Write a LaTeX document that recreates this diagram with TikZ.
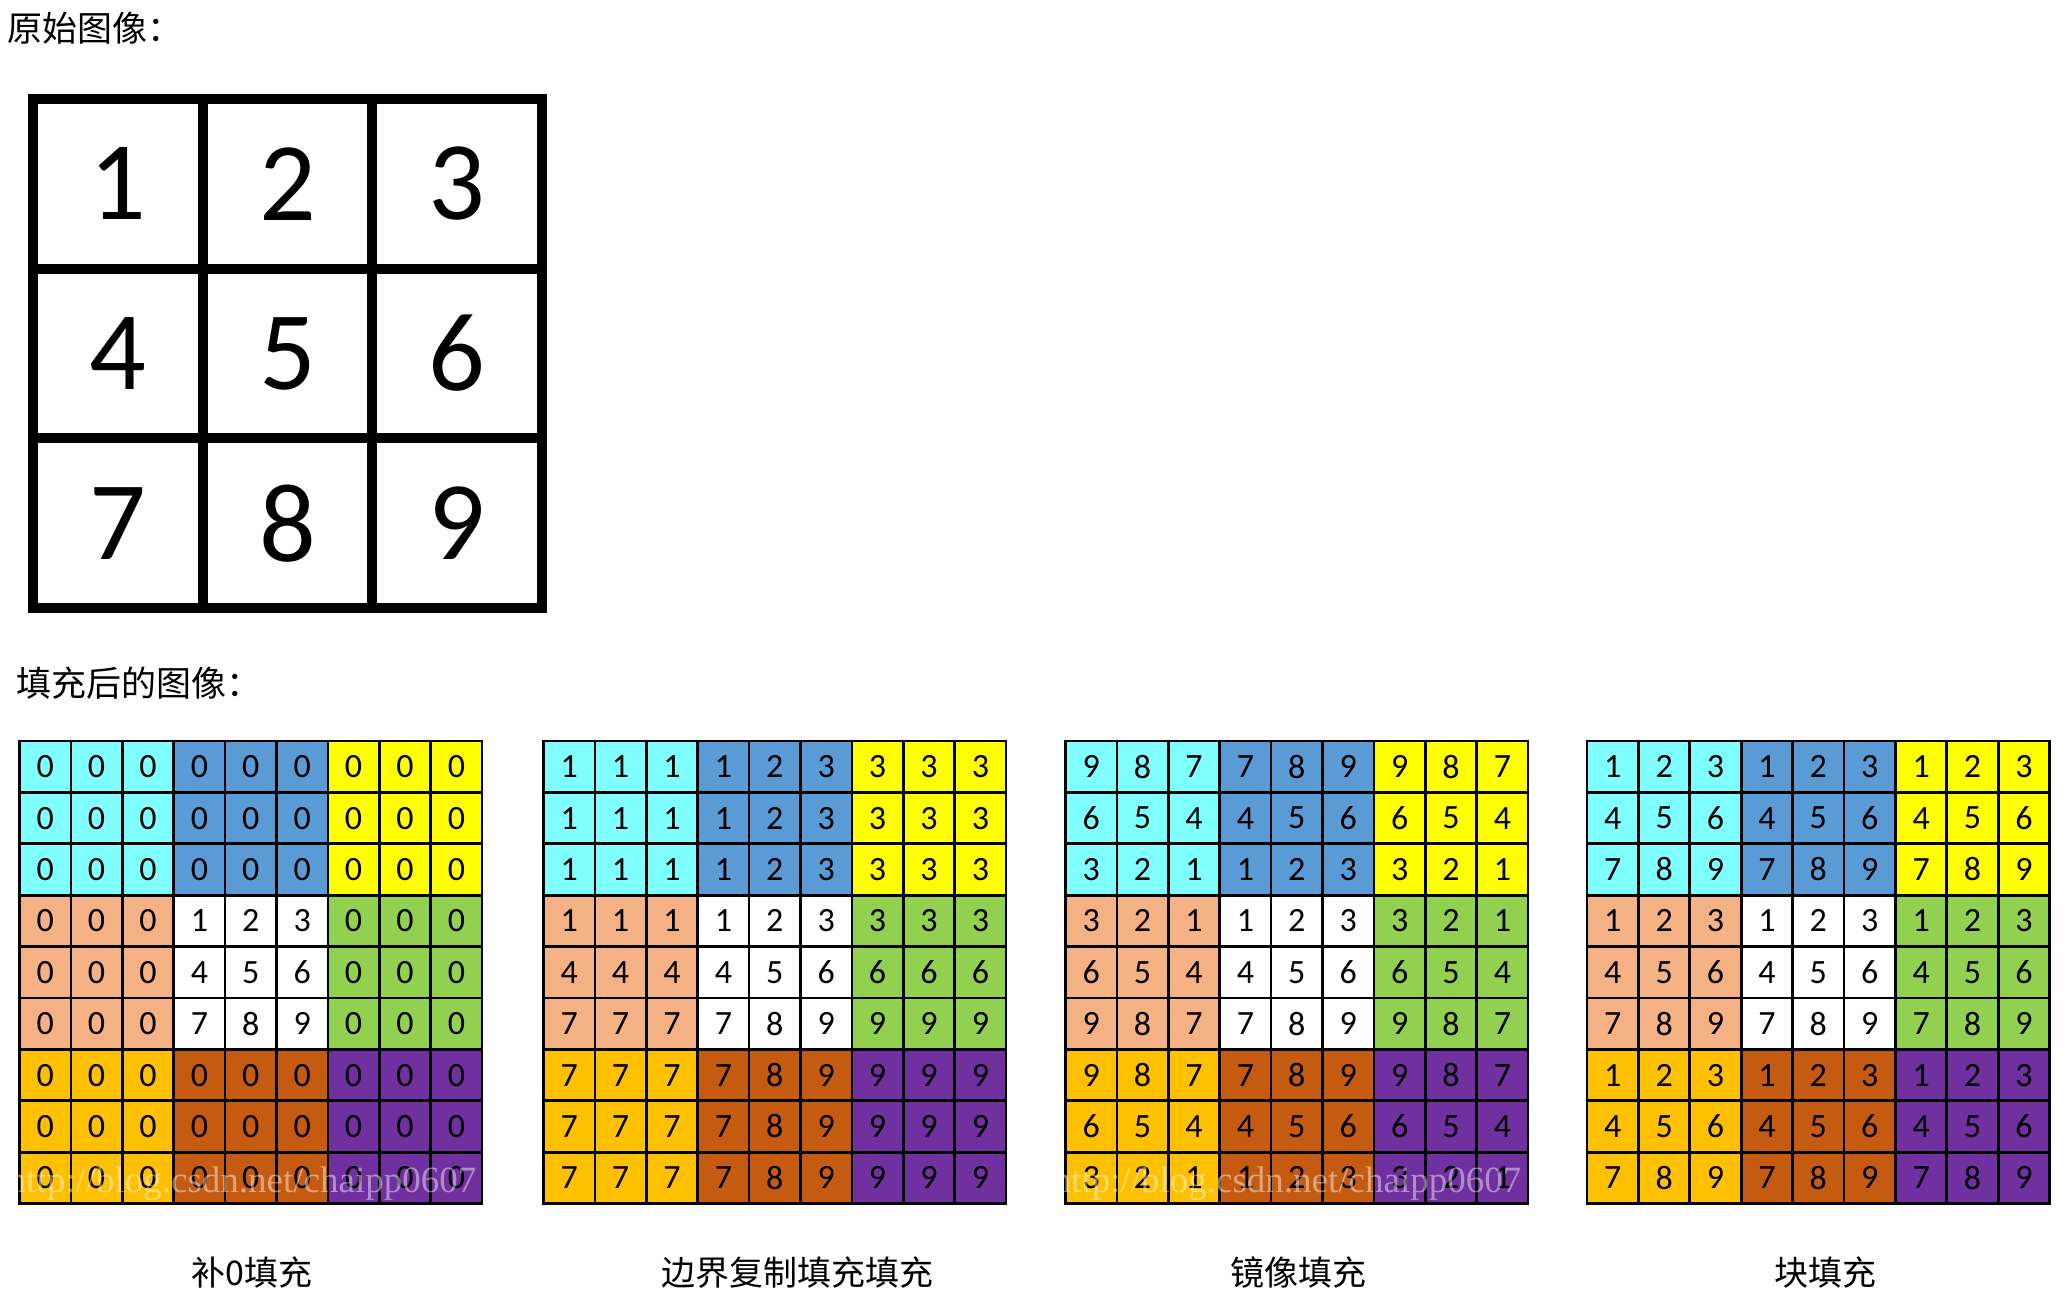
\documentclass[tikz,border=0pt]{standalone}
\usepackage{fontspec}
\setmainfont{Carlito}
\newfontfamily\cjk{Noto Sans CJK SC}
\newfontfamily\wmfont{Liberation Serif}
\usetikzlibrary{positioning}

\definecolor{blk0}{HTML}{80FFFF}
\definecolor{blk1}{HTML}{5B9BD5}
\definecolor{blk2}{HTML}{FFFF00}
\definecolor{blk3}{HTML}{F4B183}
\definecolor{blk4}{HTML}{FFFFFF}
\definecolor{blk5}{HTML}{92D050}
\definecolor{blk6}{HTML}{FFC000}
\definecolor{blk7}{HTML}{C55A11}
\definecolor{blk8}{HTML}{7030A0}

\tikzset{
    bigcell/.style={draw=black,line width=10pt,minimum size=169.7pt,inner sep=0pt,
        font=\fontsize{112}{112}\selectfont},
    padcell/.style={draw=black,line width=2.7pt,minimum size=51.4pt,inner sep=0pt,
        font=\fontsize{34}{34}\selectfont},
    title/.style={anchor=west,inner sep=0pt,font=\cjk\fontsize{35}{35}\selectfont},
    caption/.style={inner sep=0pt,font=\cjk\fontsize{34}{34}\selectfont},
    wmark/.style={inner sep=0pt,text=white,text opacity=0.45,
        font=\wmfont\fontsize{37}{37}\selectfont}
}

% one padded 9x9 grid: name, left x, index map of rows/columns
\newcommand{\padgrid}[3]{%
    \foreach \r in {1,...,9}{
        \foreach \c in {1,...,9}{
            \pgfmathtruncatemacro\blk{3*int((\r-1)/3)+int((\c-1)/3)}
            \pgfmathtruncatemacro\mr{#3[\r-1]}
            \pgfmathtruncatemacro\mc{#3[\c-1]}
            \pgfmathtruncatemacro\val{(\mr>0 && \mc>0) ? (\mr-1)*3+\mc : 0}
            \node[padcell,fill=blk\blk] (#1-\r-\c) at ({#2+51.4*(\c-0.5)},{741+51.4*(\r-0.5)}) {\val};
        }
    }
}

\begin{document}
\begin{tikzpicture}[x=1pt,y=-1pt]
    \fill[white] (0,0) rectangle (2072,1300);
    \useasboundingbox (0,0) rectangle (2072,1300);

    \node[title] (origtitle) at (7,28) {原始图像：};
    \foreach \r in {1,2,3}{
        \foreach \c in {1,2,3}{
            \pgfmathtruncatemacro\val{(\r-1)*3+\c}
            \node[bigcell] (orig-\r-\c) at ({33+169.7*(\c-0.5)},{99+169.7*(\r-0.5)}) {\val};
        }
    }

    \node[title] (padtitle) at (16,683) {填充后的图像：};
    \padgrid{zero}{19.5}{{0,0,0,1,2,3,0,0,0}}
    \padgrid{edge}{543.5}{{1,1,1,1,2,3,3,3,3}}
    \padgrid{mirror}{1065.5}{{3,2,1,1,2,3,3,2,1}}
    \padgrid{block}{1587}{{1,2,3,1,2,3,1,2,3}}

    \node[wmark] (wmark1) at (242,1184) {http://blog.csdn.net/chaipp0607};
    \node[wmark] (wmark2) at (1287,1184) {http://blog.csdn.net/chaipp0607};

    \node[caption] (zerocap) at (252,1273) {补0填充};
    \node[caption] (edgecap) at (797,1273) {边界复制填充填充};
    \node[caption] (mirrorcap) at (1298,1273) {镜像填充};
    \node[caption] (blockcap) at (1825,1273) {块填充};
\end{tikzpicture}
\end{document}
